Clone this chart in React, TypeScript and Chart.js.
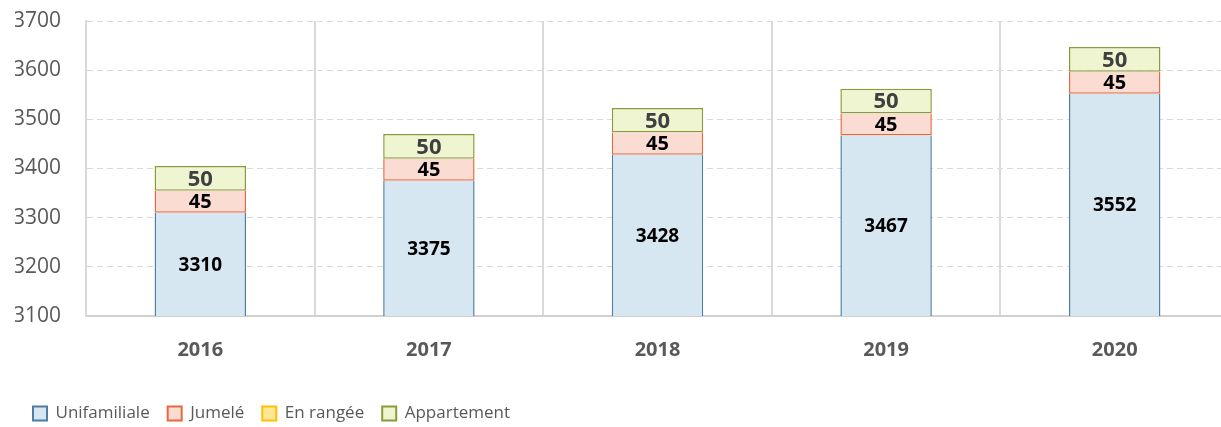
import React, { useEffect, useRef } from "react";
import { Chart, registerables } from "chart.js";

Chart.register(...registerables);

const categories = ["2016", "2017", "2018", "2019", "2020"];
const unifamiliale = [3310, 3375, 3428, 3467, 3552];
const jumele = [45, 45, 45, 45, 45];
const enRangee = [0, 0, 0, 0, 0];
const appartement = [50, 50, 50, 50, 50];
const yTicks = [3100, 3200, 3300, 3400, 3500, 3600, 3700];

const FONT = "'Open Sans', 'Noto Sans', sans-serif";

const labelPlugin = {
  id: "segLabels",
  afterDatasetsDraw(chart: any) {
    const ctx = chart.ctx;
    const area = chart.chartArea;
    const cfg: Record<number, { size: number; color: string }> = {
      0: { size: 19, color: "#000000" },
      1: { size: 20, color: "#000000" },
      3: { size: 22, color: "#404040" },
    };
    ctx.save();
    ctx.textAlign = "center";
    ctx.textBaseline = "middle";
    chart.data.datasets.forEach((ds: any, di: number) => {
      const c = cfg[di];
      if (!c) return;
      const meta = chart.getDatasetMeta(di);
      meta.data.forEach((el: any, i: number) => {
        const v = ds.data[i];
        if (!v) return;
        const p = el.getProps(["x", "y", "base"], true);
        const top = Math.min(p.y, p.base);
        const bottom = Math.min(Math.max(p.y, p.base), area.bottom);
        ctx.font = `bold ${c.size}px ${FONT}`;
        ctx.fillStyle = c.color;
        ctx.fillText(String(v), p.x, (top + bottom) / 2 + 1);
      });
    });
    ctx.restore();
  },
};

export default function App() {
  const ref = useRef<HTMLCanvasElement>(null);
  useEffect(() => {
    if (!ref.current) return;
    const chart = new Chart(ref.current, {
      type: "bar",
      data: {
        labels: categories,
        datasets: [
          {
            label: "Unifamiliale",
            data: unifamiliale,
            backgroundColor: "#D7E7F1",
            borderColor: "#4F7FA2",
            borderWidth: { left: 1.5, right: 1.5, top: 0, bottom: 0 },
            borderSkipped: false,
          },
          {
            label: "Jumelé",
            data: jumele,
            backgroundColor: "#FADCD3",
            borderColor: "#E26A3E",
            borderWidth: { left: 1.5, right: 1.5, top: 0, bottom: 1.5 },
            borderSkipped: false,
          },
          {
            label: "En rangée",
            data: enRangee,
            backgroundColor: "#FFE699",
            borderColor: "#FFC000",
            borderWidth: 0,
            borderSkipped: false,
          },
          {
            label: "Appartement",
            data: appartement,
            backgroundColor: "#EFF5D1",
            borderColor: "#8C9A3A",
            borderWidth: 1.5,
            borderSkipped: false,
          },
        ] as any,
      },
      options: {
        animation: false,
        responsive: false,
        maintainAspectRatio: false,
        datasets: { bar: { categoryPercentage: 1, barPercentage: 0.4 } } as any,
        layout: { padding: { left: 15, right: 0, top: 21, bottom: 0 } },
        plugins: {
          tooltip: { enabled: false },
          legend: {
            position: "bottom",
            align: "start",
            labels: {
              boxWidth: 14,
              boxHeight: 14,
              padding: 18,
              color: "#595959",
              font: { family: FONT, size: 17 },
              generateLabels(chart: any) {
                const items = Chart.defaults.plugins.legend.labels.generateLabels(chart);
                return items.map((it: any) => ({ ...it, lineWidth: 2 }));
              },
            },
          },
        },
        scales: {
          x: {
            stacked: true,
            offset: true,
            afterFit(scale: any) {
              scale.height = 71;
            },
            grid: { display: true, offset: true, color: "#D9D9D9", lineWidth: 2, drawTicks: false },
            border: { display: true, color: "#D0D0D0", width: 2 },
            ticks: {
              padding: 22,
              color: "#595959",
              font: { family: FONT, size: 20, weight: "bold" },
            },
          },
          y: {
            stacked: true,
            min: yTicks[0],
            max: yTicks[yTicks.length - 1],
            afterFit(scale: any) {
              scale.width = 71;
              scale.paddingTop = 0;
              scale.paddingBottom = 0;
            },
            afterBuildTicks(scale: any) {
              scale.ticks = yTicks.map((v) => ({ value: v }));
            },
            grid: { color: "#D9D9D9", lineWidth: 1, drawTicks: false },
            border: { display: true, color: "#D9D9D9", width: 2, dash: [6, 4] },
            ticks: {
              padding: 25,
              color: "#595959",
              font: { family: FONT, size: 21 },
              callback: (v: any) => String(v),
            },
          },
        },
      },
      plugins: [labelPlugin],
    });
    return () => chart.destroy();
  }, []);

  return (
    <div style={{ position: "fixed", left: 0, top: 0, width: 1221, height: 427, overflow: "hidden", background: "#fff" }}>
      <div style={{ width: 1229, height: 432 }}>
        <canvas ref={ref} width={1229} height={432} style={{ display: "block", width: 1229, height: 432 }} />
      </div>
    </div>
  );
}
